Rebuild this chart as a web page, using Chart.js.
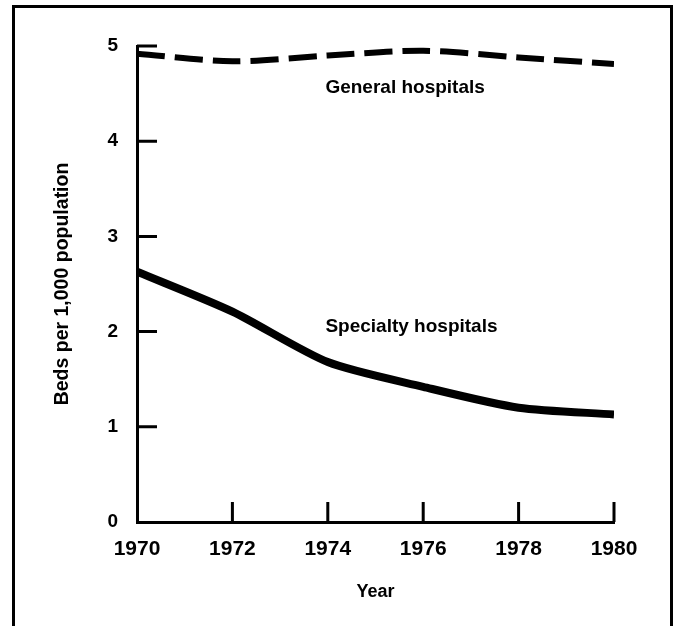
<!DOCTYPE html>
<html>
<head>
<meta charset="utf-8">
<script src="https://cdn.jsdelivr.net/npm/chart.js@4"></script>
<style>
  html, body { margin: 0; padding: 0; background: #fff; }
  #wrap { position: relative; width: 681px; height: 626px; overflow: hidden; }
  #frame {
    position: absolute; left: 12px; top: 5px; width: 661px; height: 700px;
    border: 3px solid #000; box-sizing: border-box;
  }
  #chart { position: absolute; left: 0; top: 0; }
</style>
</head>
<body>
<div id="wrap">
  <div id="frame"></div>
  <canvas id="chart" width="681" height="626"></canvas>
</div>
<script>
// ── Data ─────────────────────────────────────────────────────────────────────
const years = [1970, 1972, 1974, 1976, 1978, 1980];
const generalBeds = [4.92, 4.84, 4.90, 4.95, 4.88, 4.81];
const specialtyBeds = [2.63, 2.21, 1.68, 1.42, 1.20, 1.13];
const yTicks = [0, 1, 2, 3, 4, 5];

// In-plot series labels (text, anchored at data coordinates)
const seriesLabels = ['General hospitals', 'Specialty hospitals'];
const seriesLabelX = [1973.95, 1973.95];
const seriesLabelY = [4.56, 2.05];

const FONT = "'Liberation Sans', Arial, Helvetica, sans-serif";

// ── Plugins ──────────────────────────────────────────────────────────────────

// Tick marks point inward, like the printed original
const inwardTicks = {
  id: 'inwardTicks',
  afterDatasetsDraw(chart) {
    const { ctx, chartArea, scales: { x, y } } = chart;
    ctx.save();
    ctx.strokeStyle = '#000';
    ctx.lineWidth = 3;
    ctx.beginPath();
    for (const v of yTicks.slice(1)) {
      const py = y.getPixelForValue(v);
      ctx.moveTo(chartArea.left, py);
      ctx.lineTo(chartArea.left + 20, py);
    }
    for (const v of years.slice(1)) {
      const px = x.getPixelForValue(v);
      ctx.moveTo(px, chartArea.bottom);
      ctx.lineTo(px, chartArea.bottom - 20);
    }
    ctx.stroke();
    ctx.restore();
  }
};

const seriesText = {
  id: 'seriesText',
  afterDatasetsDraw(chart) {
    const { ctx, scales: { x, y } } = chart;
    ctx.save();
    ctx.fillStyle = '#000';
    ctx.font = `bold 19px ${FONT}`;
    ctx.textAlign = 'left';
    ctx.textBaseline = 'middle';
    seriesLabels.forEach((t, i) => {
      ctx.fillText(t, x.getPixelForValue(seriesLabelX[i]), y.getPixelForValue(seriesLabelY[i]));
    });
    ctx.restore();
  }
};

// ── Chart ────────────────────────────────────────────────────────────────────

new Chart(document.getElementById('chart').getContext('2d'), {
  type: 'line',
  data: {
    datasets: [
      {
        label: 'General hospitals',
        data: years.map((yr, i) => ({ x: yr, y: generalBeds[i] })),
        borderColor: '#000',
        borderWidth: 6,
        borderDash: [28, 10],
        tension: 0.3,
        pointRadius: 0,
        fill: false
      },
      {
        label: 'Specialty hospitals',
        data: years.map((yr, i) => ({ x: yr, y: specialtyBeds[i] })),
        borderColor: '#000',
        borderWidth: 8,
        tension: 0.25,
        pointRadius: 0,
        fill: false
      }
    ]
  },
  options: {
    responsive: false,
    animation: false,
    layout: { padding: { top: 46, right: 67, left: 0, bottom: 0 } },
    plugins: { legend: { display: false }, tooltip: { enabled: false } },
    scales: {
      x: {
        type: 'linear',
        min: 1970,
        max: 1980,
        afterFit: s => { s.height = 104; },
        afterBuildTicks: s => { s.ticks = years.map(v => ({ value: v })); },
        grid: { display: false, drawTicks: false },
        border: { display: true, color: '#000', width: 3 },
        ticks: {
          color: '#000',
          padding: 15,
          font: { family: FONT, size: 21, weight: 'bold' },
          callback: v => String(v)
        },
        title: {
          display: true,
          text: 'Year',
          color: '#000',
          font: { family: FONT, size: 18, weight: 'bold' },
          padding: { top: 0, bottom: 23 }
        }
      },
      y: {
        min: 0,
        max: 5,
        afterFit: s => { s.width = 137; },
        afterBuildTicks: s => { s.ticks = yTicks.map(v => ({ value: v })); },
        grid: { display: false, drawTicks: false },
        border: { display: true, color: '#000', width: 3 },
        ticks: {
          color: '#000',
          padding: 19,
          font: { family: FONT, size: 19, weight: 'bold' }
        },
        title: {
          display: true,
          text: 'Beds per 1,000 population',
          color: '#000',
          font: { family: FONT, size: 19.5, weight: 'bold' },
          padding: { top: 51, bottom: 0 }
        }
      }
    }
  },
  plugins: [inwardTicks, seriesText]
});
</script>
</body>
</html>
